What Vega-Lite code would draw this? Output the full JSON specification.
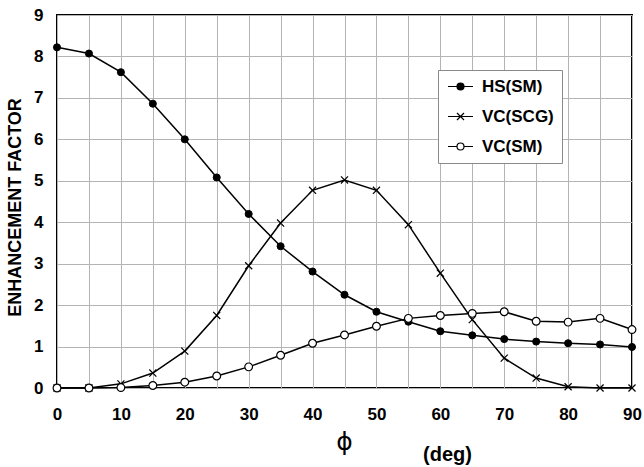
{
  "$schema": "https://vega.github.io/schema/vega-lite/v6.json",
  "width": 575,
  "height": 373,
  "autosize": {"type": "none"},
  "padding": {"left": 57, "top": 15, "right": 12, "bottom": 79},
  "background": "white",
  "config": {
    "view": {"stroke": "black", "strokeWidth": 2},
    "axis": {
      "domain": false,
      "ticks": false,
      "gridColor": "#b4b4b4",
      "gridWidth": 1,
      "labelFont": "Liberation Sans",
      "labelFontWeight": "bold",
      "labelFontSize": 17,
      "labelColor": "black",
      "titleColor": "black"
    },
    "legend": {
      "labelFont": "Liberation Sans",
      "labelFontWeight": "bold",
      "labelFontSize": 17,
      "labelColor": "black"
    }
  },
  "data": {
    "values": [
      {"phi": 0, "series": "HS(SM)", "value": 8.22},
      {"phi": 5, "series": "HS(SM)", "value": 8.07},
      {"phi": 10, "series": "HS(SM)", "value": 7.62},
      {"phi": 15, "series": "HS(SM)", "value": 6.86},
      {"phi": 20, "series": "HS(SM)", "value": 6.0},
      {"phi": 25, "series": "HS(SM)", "value": 5.08},
      {"phi": 30, "series": "HS(SM)", "value": 4.2},
      {"phi": 35, "series": "HS(SM)", "value": 3.42},
      {"phi": 40, "series": "HS(SM)", "value": 2.81},
      {"phi": 45, "series": "HS(SM)", "value": 2.25},
      {"phi": 50, "series": "HS(SM)", "value": 1.84},
      {"phi": 55, "series": "HS(SM)", "value": 1.6},
      {"phi": 60, "series": "HS(SM)", "value": 1.37},
      {"phi": 65, "series": "HS(SM)", "value": 1.27},
      {"phi": 70, "series": "HS(SM)", "value": 1.18},
      {"phi": 75, "series": "HS(SM)", "value": 1.12},
      {"phi": 80, "series": "HS(SM)", "value": 1.08},
      {"phi": 85, "series": "HS(SM)", "value": 1.05},
      {"phi": 90, "series": "HS(SM)", "value": 0.99},
      {"phi": 0, "series": "VC(SCG)", "value": 0.0},
      {"phi": 5, "series": "VC(SCG)", "value": 0.0},
      {"phi": 10, "series": "VC(SCG)", "value": 0.1},
      {"phi": 15, "series": "VC(SCG)", "value": 0.36},
      {"phi": 20, "series": "VC(SCG)", "value": 0.89},
      {"phi": 25, "series": "VC(SCG)", "value": 1.75},
      {"phi": 30, "series": "VC(SCG)", "value": 2.95},
      {"phi": 35, "series": "VC(SCG)", "value": 3.98},
      {"phi": 40, "series": "VC(SCG)", "value": 4.77},
      {"phi": 45, "series": "VC(SCG)", "value": 5.02},
      {"phi": 50, "series": "VC(SCG)", "value": 4.77},
      {"phi": 55, "series": "VC(SCG)", "value": 3.94},
      {"phi": 60, "series": "VC(SCG)", "value": 2.77},
      {"phi": 65, "series": "VC(SCG)", "value": 1.65},
      {"phi": 70, "series": "VC(SCG)", "value": 0.72},
      {"phi": 75, "series": "VC(SCG)", "value": 0.24},
      {"phi": 80, "series": "VC(SCG)", "value": 0.03},
      {"phi": 85, "series": "VC(SCG)", "value": 0.0},
      {"phi": 90, "series": "VC(SCG)", "value": 0.0},
      {"phi": 0, "series": "VC(SM)", "value": 0.0},
      {"phi": 5, "series": "VC(SM)", "value": 0.0},
      {"phi": 10, "series": "VC(SM)", "value": 0.01},
      {"phi": 15, "series": "VC(SM)", "value": 0.06},
      {"phi": 20, "series": "VC(SM)", "value": 0.14},
      {"phi": 25, "series": "VC(SM)", "value": 0.29},
      {"phi": 30, "series": "VC(SM)", "value": 0.51},
      {"phi": 35, "series": "VC(SM)", "value": 0.79},
      {"phi": 40, "series": "VC(SM)", "value": 1.08},
      {"phi": 45, "series": "VC(SM)", "value": 1.28},
      {"phi": 50, "series": "VC(SM)", "value": 1.49},
      {"phi": 55, "series": "VC(SM)", "value": 1.68},
      {"phi": 60, "series": "VC(SM)", "value": 1.75},
      {"phi": 65, "series": "VC(SM)", "value": 1.8},
      {"phi": 70, "series": "VC(SM)", "value": 1.84},
      {"phi": 75, "series": "VC(SM)", "value": 1.61},
      {"phi": 80, "series": "VC(SM)", "value": 1.59},
      {"phi": 85, "series": "VC(SM)", "value": 1.68},
      {"phi": 90, "series": "VC(SM)", "value": 1.41}
    ]
  },
  "resolve": {
    "axis": {"x": "independent"}
  },
  "layer": [
    {
      "mark": {"type": "line", "color": "black", "strokeWidth": 1.5},
      "encoding": {
        "x": {
          "field": "phi", "type": "quantitative",
          "scale": {"domain": [0, 90], "nice": false, "zero": false},
          "axis": {
            "values": [0, 5, 10, 15, 20, 25, 30, 35, 40, 45, 50, 55, 60, 65, 70, 75, 80, 85, 90],
            "labelExpr": "datum.value % 10 === 0 ? datum.label : ''",
            "labelPadding": 18,
            "labelFlush": false,
            "title": "ϕ",
            "titleFont": "DejaVu Sans",
            "titleFontWeight": "normal",
            "titleFontSize": 25,
            "titleBaseline": "middle",
            "titleX": 287,
            "titleY": 53
          }
        },
        "y": {
          "field": "value", "type": "quantitative",
          "scale": {"domain": [0, 9], "nice": false},
          "axis": {
            "values": [0, 1, 2, 3, 4, 5, 6, 7, 8, 9],
            "labelPadding": 14,
            "labelFlush": false,
            "title": "ENHANCEMENT FACTOR",
            "titleFont": "Liberation Sans",
            "titleFontWeight": "bold",
            "titleFontSize": 18,
            "titleBaseline": "middle",
            "titleAlign": "center",
            "titleAngle": -90,
            "titleX": -42,
            "titleY": 192
          }
        },
        "detail": {"field": "series"}
      }
    },
    {
      "transform": [{"filter": "datum.series === 'HS(SM)'"}],
      "mark": {"type": "point", "shape": "circle", "filled": true, "fill": "black", "stroke": "black", "strokeWidth": 1, "size": 50, "opacity": 1},
      "encoding": {
        "x": {
          "field": "phi", "type": "quantitative",
          "axis": {
            "orient": "bottom",
            "labels": false, "grid": false, "ticks": false, "domain": false,
            "title": "(deg)",
            "titleFont": "Liberation Sans",
            "titleFontWeight": "bold",
            "titleFontSize": 20,
            "titleBaseline": "middle",
            "titleX": 390,
            "titleY": 66
          }
        },
        "y": {"field": "value", "type": "quantitative"}
      }
    },
    {
      "transform": [{"filter": "datum.series === 'VC(SCG)'"}],
      "mark": {"type": "point", "shape": "M-1,-1L1,1M-1,1L1,-1", "filled": false, "stroke": "black", "strokeWidth": 1.2, "size": 50, "opacity": 1},
      "encoding": {
        "x": {"field": "phi", "type": "quantitative", "axis": null},
        "y": {"field": "value", "type": "quantitative"}
      }
    },
    {
      "transform": [{"filter": "datum.series === 'VC(SM)'"}],
      "mark": {"type": "point", "shape": "circle", "filled": true, "fill": "white", "stroke": "black", "strokeWidth": 1.2, "size": 60, "opacity": 1},
      "encoding": {
        "x": {"field": "phi", "type": "quantitative", "axis": null},
        "y": {"field": "value", "type": "quantitative"}
      }
    },
    {
      "transform": [{"filter": "false"}],
      "mark": {"type": "point", "filled": false, "stroke": "black", "strokeWidth": 1.2, "opacity": 1},
      "encoding": {
        "x": {"field": "phi", "type": "quantitative", "axis": null},
        "y": {"field": "value", "type": "quantitative"},
        "shape": {
          "field": "series", "type": "nominal",
          "scale": {"domain": ["HS(SM)", "VC(SCG)", "VC(SM)"], "range": [
            "M-2.5,0H2.5M0.7,0A0.7,0.7 0 1,1 -0.7,0A0.7,0.7 0 1,1 0.7,0ZM0.5,0A0.5,0.5 0 1,1 -0.5,0A0.5,0.5 0 1,1 0.5,0ZM0.3,0A0.3,0.3 0 1,1 -0.3,0A0.3,0.3 0 1,1 0.3,0ZM0.12,0A0.12,0.12 0 1,1 -0.12,0A0.12,0.12 0 1,1 0.12,0Z",
            "M-2.5,0H2.5M-0.7,-0.7L0.7,0.7M-0.7,0.7L0.7,-0.7",
            "M-2.5,0H-0.7M0.7,0H2.5M0.7,0A0.7,0.7 0 1,1 -0.7,0A0.7,0.7 0 1,1 0.7,0Z"
          ]},
          "legend": {
            "title": null,
            "orient": "none",
            "legendX": 381,
            "legendY": 55,
            "fillColor": "white",
            "strokeColor": "#8a8a8a",
            "padding": 8,
            "symbolSize": 100,
            "symbolOffset": 6,
            "symbolStrokeColor": "black",
            "symbolFillColor": "transparent",
            "symbolStrokeWidth": 1.2,
            "symbolOpacity": 1,
            "labelOffset": 13,
            "rowPadding": 12
          }
        }
      }
    }
  ]
}
